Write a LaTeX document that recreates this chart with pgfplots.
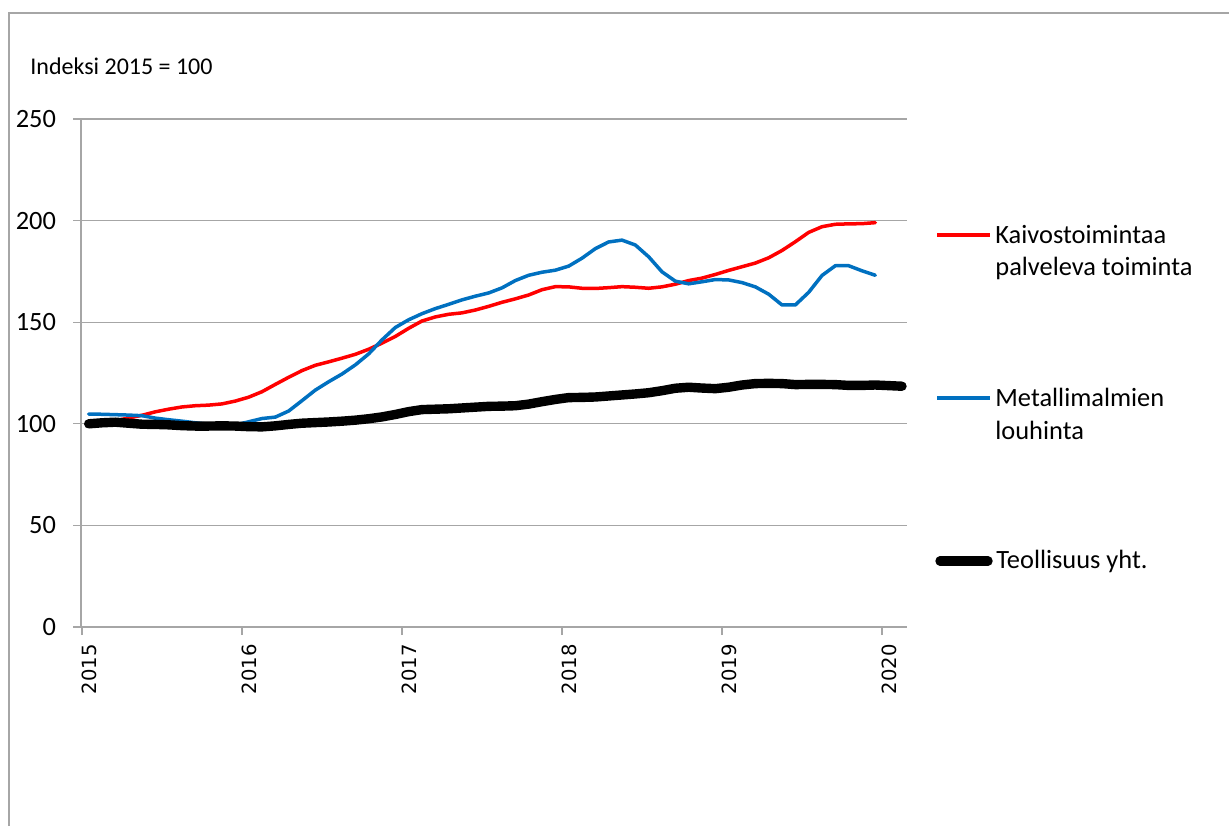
\documentclass[border=0pt]{standalone}
\usepackage{fontspec}
\setmainfont{Carlito}
\newfontfamily\dejavu{DejaVu Sans}
\usepackage{pgfplots}
\usepackage{pgfplotstable}
\pgfplotsset{compat=1.18}
\definecolor{exred}{HTML}{FF0000}
\definecolor{exblue}{HTML}{0070C0}
\definecolor{exgrid}{HTML}{A6A6A6}

% monthly index values, x = month slot centre (0.5 = Jan 2015)
\pgfplotstableread{
x kaiv metal
0.5 100.0 104.8
1.5 100.6 104.7
2.5 101.5 104.5
3.5 102.9 104.3
4.5 104.2 104.0
5.5 105.9 102.8
6.5 107.2 102.0
7.5 108.3 101.3
8.5 108.9 100.5
9.5 109.2 99.8
10.5 109.8 99.2
11.5 111.2 99.4
12.5 113.1 101.0
13.5 115.8 102.6
14.5 119.4 103.3
15.5 122.9 106.3
16.5 126.2 111.4
17.5 128.8 116.6
18.5 130.5 120.7
19.5 132.3 124.5
20.5 134.2 129.0
21.5 136.7 134.4
22.5 139.7 141.3
23.5 143.0 147.4
24.5 147.0 151.2
25.5 150.6 154.2
26.5 152.6 156.7
27.5 153.9 158.8
28.5 154.6 161.0
29.5 156.0 162.8
30.5 157.8 164.4
31.5 159.8 166.9
32.5 161.5 170.5
33.5 163.4 173.1
34.5 166.0 174.6
35.5 167.5 175.6
36.5 167.4 177.6
37.5 166.7 181.5
38.5 166.6 186.2
39.5 167.0 189.5
40.5 167.5 190.4
41.5 167.2 188.0
42.5 166.7 182.2
43.5 167.4 174.8
44.5 168.7 170.2
45.5 170.5 168.9
46.5 171.7 169.9
47.5 173.5 171.0
48.5 175.5 170.8
49.5 177.3 169.5
50.5 179.1 167.4
51.5 181.7 163.8
52.5 185.3 158.5
53.5 189.6 158.5
54.5 194.2 164.7
55.5 197.0 173.0
56.5 198.2 177.8
57.5 198.4 177.8
58.5 198.5 175.3
59.5 199.0 173.1
}\mining

\pgfplotstableread{
x teol
0.5 100.0
1.5 100.5
2.5 100.8
3.5 100.3
4.5 99.8
5.5 99.7
6.5 99.5
7.5 99.1
8.5 98.9
9.5 98.9
10.5 99.0
11.5 98.9
12.5 98.6
13.5 98.5
14.5 99.0
15.5 99.7
16.5 100.3
17.5 100.6
18.5 100.9
19.5 101.3
20.5 101.8
21.5 102.5
22.5 103.4
23.5 104.6
24.5 106.0
25.5 107.0
26.5 107.2
27.5 107.4
28.5 107.8
29.5 108.2
30.5 108.6
31.5 108.7
32.5 108.9
33.5 109.7
34.5 110.9
35.5 112.0
36.5 112.9
37.5 113.0
38.5 113.2
39.5 113.7
40.5 114.2
41.5 114.7
42.5 115.3
43.5 116.3
44.5 117.5
45.5 118.0
46.5 117.6
47.5 117.3
48.5 118.0
49.5 119.1
50.5 119.8
51.5 119.9
52.5 119.8
53.5 119.3
54.5 119.4
55.5 119.4
56.5 119.3
57.5 118.9
58.5 118.9
59.5 119.1
60.5 118.8
61.5 118.5
}\industry

\begin{document}
\begin{tikzpicture}
\useasboundingbox (0,0) rectangle (614.5pt,-413pt);
% chart frame (cropped at right and bottom)
\draw[exgrid, line width=0.9pt] (4.5pt,-413pt) -- (4.5pt,-6.5pt) -- (614.5pt,-6.5pt);

\node[anchor=base west, inner sep=0pt, font=\fontsize{12}{14}\selectfont] at (15pt,-37pt) {Indeksi 2015 = 100};

\begin{axis}[
  at={(40.5pt,-313.5pt)}, anchor=south west,
  scale only axis, width=413pt, height=254pt,
  xmin=-0.075, xmax=61.875, ymin=0, ymax=250,
  axis lines*=left,
  axis line style={exgrid, line width=0.6pt},
  ytick={0,50,...,250},
  xtick={0,12,24,36,48,60},
  xticklabels={2015,2016,2017,2018,2019,2020},
  ymajorgrids,
  grid style={exgrid, line width=0.6pt},
  tick align=outside, major tick length=4pt,
  tick style={exgrid, line width=0.6pt},
  yticklabel style={font=\fontsize{13.2}{16}\selectfont, xshift=-5pt, /pgf/number format/assume math mode=true},
  xticklabel style={font=\dejavu\fontsize{9.8}{12}\selectfont, xshift=3.5pt, rotate=90, anchor=east},
  xticklabel shift=1.2pt,
  clip=false,
]
\addplot[exred, line width=1.75pt, line join=round, line cap=round] table[x=x, y=kaiv] {\mining};
\addplot[exblue, line width=1.75pt, line join=round, line cap=round] table[x=x, y=metal] {\mining};
\addplot[black, line width=4.7pt, line join=round, line cap=round] table[x=x, y=teol] {\industry};
\end{axis}

% legend
\draw[exred, line width=1.75pt] (468.5pt,-117.5pt) -- (495pt,-117.5pt);
\draw[exblue, line width=1.75pt] (468.5pt,-199pt) -- (495pt,-199pt);
\draw[black, line width=4.7pt, line cap=round] (470pt,-280.5pt) -- (494pt,-280.5pt);
\begin{scope}[every node/.style={anchor=base west, inner sep=0pt, font=\fontsize{13.2}{16}\selectfont}]
\node at (497.5pt,-121.5pt) {Kaivostoimintaa};
\node at (497.5pt,-137.5pt) {palveleva toiminta};
\node at (497.5pt,-203pt) {Metallimalmien};
\node at (497.5pt,-219.5pt) {louhinta};
\node at (498pt,-284pt) {Teollisuus yht.};
\end{scope}
\end{tikzpicture}
\end{document}
